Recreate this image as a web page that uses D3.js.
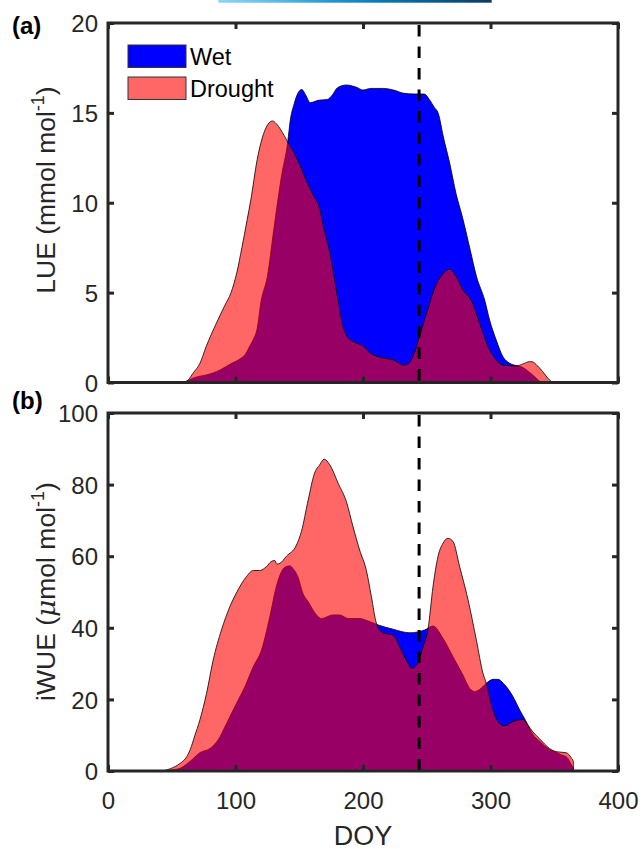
<!DOCTYPE html>
<html>
<head>
<meta charset="utf-8">
<script src="https://cdn.jsdelivr.net/npm/d3@7"></script>
<style>
  html, body { margin: 0; padding: 0; background: #fff; }
  svg { display: block; font-family: "Liberation Sans", Arial, Helvetica, sans-serif; }
</style>
</head>
<body>
<svg id="chart" width="643" height="849"></svg>
<script>
// ---- data: [DOY, value] ----
const lueWet = [
  [45,0],[50,0.05],[56,0.05],[59,0],[62,0.08],[66,0.22],[72,0.35],[77,0.42],[88,0.7],[96,1.03],
  [103,1.29],[108,1.6],[111,2.0],[114,2.4],[117,3.0],[120,4.5],[125,5.9],[130,8.5],
  [136,11.45],[141,13.4],[143,14.6],[146,15.5],[149,16.1],[152,16.3],[155,16.0],[158.7,15.57],
  [165,15.7],[172,15.75],[176,16.0],[180,16.4],[187,16.55],[195,16.42],[200,16.27],
  [206,16.36],[216,16.36],[224,16.27],[232,16.09],[240,16.05],[248,16.05],[252,15.75],
  [256,15.3],[259,14.98],[263,13.67],[268,12.2],[273,10.5],[278,9.2],[284,7.4],[289,5.9],
  [295.4,4.59],[299.3,3.48],[304.5,2.36],[309.7,1.44],[315,1.07],[321.5,0.92],[325,0.85],
  [330,0.6],[335,0.3],[338,0.1],[340,0]
];
const lueDrought = [
  [59,0],[63,0.15],[67,0.55],[72,1.05],[77,2.0],[85,3.3],[91.7,4.3],[96.5,5.0],[101,6.1],
  [105,7.5],[109,9.0],[112,10.15],[117,12.4],[122.6,13.95],[126.4,14.45],[129,14.55],[132,14.4],
  [135.6,14.05],[140.8,13.4],[146,12.75],[151,12.0],[156.4,11.08],[161.6,10.34],[165.5,9.8],
  [169,8.67],[174.6,7.0],[180,4.77],[183.7,3.29],[187.6,2.55],[192.8,2.27],[200.7,2.0],
  [206,1.62],[213.7,1.4],[224,1.25],[232,0.97],[236,1.07],[241,1.8],[245,2.74],[251.4,4.2],
  [256.6,5.33],[263,6.07],[268,6.3],[273,5.9],[278,5.2],[285,4.55],[291.5,3.29],[298,2.0],
  [304.5,1.25],[309.7,0.97],[320,0.92],[326,1.05],[330.6,1.16],[333,1.15],[335.8,1.0],
  [341,0.6],[346.3,0.14],[349,0]
];
const wueWet = [
  [44,0],[50,0.3],[56.4,0.75],[62,2.0],[66.9,3.5],[72,5.1],[80,6.3],[86.4,8.7],[93,13.3],
  [100.8,18.9],[107.3,23.5],[113.9,29.1],[120.4,33.8],[126.9,43.1],[132,51.5],[136.1,55.7],
  [138.7,56.9],[142.6,57.3],[145.2,56.5],[149,54.2],[153,49.5],[157,47.3],[163.5,43.6],
  [167.4,42.6],[176.5,43.6],[181.8,43.6],[188.3,42.6],[197.4,42.6],[202.6,42.1],[211.8,40.8],
  [223.6,39.6],[236.7,38.6],[248.4,39.4],[254.9,40.5],[262.7,37.1],[270.6,31.9],[278.4,26.8],
  [283.6,23.1],[287.5,22.2],[291.5,22.8],[296.7,24.5],[302,25.6],[305.8,25.6],[310,24.5],
  [317.6,20.8],[323,17.0],[328,13.8],[333.3,10.2],[338.5,8.3],[346.3,6.0],[351.5,5.2],
  [356,4.5],[360,3.8],[363,2.0],[365,0.5],[365,0]
];
const wueDrought = [
  [42,0],[50,0.8],[56.4,2.1],[61,3.6],[64.5,6.0],[68,9.8],[72,14.2],[77.3,21.7],[82.5,31],[89,39.4],
  [95.6,45.9],[102,50.6],[108.6,54.3],[113.9,56],[119,56],[124.3,57.1],[128,58.5],[130.8,58.8],
  [132.5,57.8],[134.8,58],[140,60],[147.8,63.1],[151.7,66.9],[157,75.7],[162,83.2],[166,85.5],
  [169.5,87.1],[174,85.5],[180.5,80.4],[187,75.2],[192.2,68.2],[197.4,61.7],[202.6,56.1],
  [206.6,48.7],[210.5,41.3],[215.7,38.6],[223.6,38.0],[228.8,34.7],[235.3,30.1],[237.9,28.7],
  [243.1,30.1],[247,34.7],[250.9,39.4],[254.9,51.5],[258.8,59.9],[262.7,63.6],[266.7,65.0],
  [270.6,64.1],[275.8,57.1],[282.4,47.8],[288.9,36.6],[294.1,27.3],[296.7,24.5],[301.9,17.0],
  [307,13.3],[311,12.6],[317.6,13.8],[325.4,14.4],[329.3,12.8],[333.3,10.9],[338.5,9.0],
  [346.3,6.3],[351.5,5.4],[359.4,5.1],[363.3,3.7],[365,2.6],[365,0]
];
const markerDoy = 244;

const xTicks = [0, 100, 200, 300, 400];
const lueTicks = [0, 5, 10, 15, 20];
const wueTicks = [0, 20, 40, 60, 80, 100];
const seriesNames = ["Wet", "Drought"];
const barStops = ["#8fd5f6", "#5dbbe8", "#2399d2", "#0679b5", "#0a5a8a", "#0c3a5f"];

// ---- layout ----
const svg = d3.select("#chart");
const left = 108, right = 618;
const panels = [
  { id: "a", top: 23, bottom: 382.5, max: 20, ticks: lueTicks, wet: lueWet, dry: lueDrought, xlabels: false, letterY: 25 },
  { id: "b", top: 413, bottom: 771, max: 100, ticks: wueTicks, wet: wueWet, dry: wueDrought, xlabels: true, letterY: 400 }
];
const axisColor = "#262626";
const x = d3.scaleLinear().domain([0, 400]).range([left, right]);

// gradient strip along the top edge
const defs = svg.append("defs");
const grad = defs.append("linearGradient").attr("id", "topbar").attr("x1", 0).attr("x2", 1).attr("y1", 0).attr("y2", 0);
barStops.forEach((c, i) => grad.append("stop").attr("offset", i / (barStops.length - 1)).attr("stop-color", c));
svg.append("rect").attr("x", 218.3).attr("y", 0).attr("width", 273.4).attr("height", 2.7).attr("fill", "url(#topbar)");

panels.forEach(p => {
  const y = d3.scaleLinear().domain([0, p.max]).range([p.bottom, p.top]);
  const g = svg.append("g");
  const area = d3.area().x(d => x(d[0])).y0(y(0)).y1(d => y(d[1])).curve(d3.curveMonotoneX);

  g.append("path").datum(p.wet).attr("d", area)
    .attr("fill", "#0000ff").attr("stroke", "#000").attr("stroke-width", 0.8);
  g.append("path").datum(p.dry).attr("d", area)
    .attr("fill", "#ff0000").attr("fill-opacity", 0.6).attr("stroke", "#000").attr("stroke-width", 0.8);

  // vertical dashed marker
  g.append("line").attr("x1", x(markerDoy)).attr("x2", x(markerDoy))
    .attr("y1", p.top + 2).attr("y2", p.bottom)
    .attr("stroke", "#000").attr("stroke-width", 3).attr("stroke-dasharray", "11.5,10");

  // inward ticks on all four sides
  const tl = 6;
  const axB = d3.axisBottom(x).tickValues(xTicks).tickSize(-tl).tickFormat(p.xlabels ? d3.format("d") : "");
  const axT = d3.axisTop(x).tickValues(xTicks).tickSize(-tl).tickFormat("");
  const axL = d3.axisLeft(y).tickValues(p.ticks).tickSize(-tl).tickFormat(d3.format("d"));
  const axR = d3.axisRight(y).tickValues(p.ticks).tickSize(-tl).tickFormat("");
  const styleAxis = sel => {
    sel.select(".domain").remove();
    sel.selectAll(".tick line").attr("stroke", axisColor).attr("stroke-width", 3);
    sel.selectAll(".tick text").attr("fill", axisColor).attr("font-size", 24)
      .attr("font-family", "Liberation Sans, Arial, sans-serif");
  };
  const gb = g.append("g").attr("transform", `translate(0,${p.bottom})`).call(axB).call(styleAxis);
  gb.selectAll(".tick text").attr("dy", null).attr("y", 38);
  g.append("g").attr("transform", `translate(0,${p.top})`).call(axT).call(styleAxis);
  const gl = g.append("g").attr("transform", `translate(${left},0)`).call(axL).call(styleAxis);
  gl.selectAll(".tick text").attr("x", -10).attr("dy", "0.36em");
  g.append("g").attr("transform", `translate(${right},0)`).call(axR).call(styleAxis);

  // frame
  g.append("rect").attr("x", left).attr("y", p.top).attr("width", right - left).attr("height", p.bottom - p.top)
    .attr("fill", "none").attr("stroke", axisColor).attr("stroke-width", 3);

  // panel letter
  svg.append("text").attr("x", 12).attr("y", p.letterY).attr("dy", "0.36em")
    .attr("font-size", 24).attr("font-weight", "bold").attr("fill", "#000").text(`(${p.id})`);
});

// y-axis titles
const lueTitle = svg.append("text")
  .attr("transform", "translate(55,190) rotate(-90)")
  .attr("text-anchor", "middle").attr("font-size", 26.5).attr("fill", axisColor);
lueTitle.append("tspan").text("LUE (mmol mol");
lueTitle.append("tspan").attr("font-size", 18).attr("dy", -11).text("-1");
lueTitle.append("tspan").attr("dy", 11).text(")");

const wueTitle = svg.append("text")
  .attr("transform", "translate(55,591.5) rotate(-90)")
  .attr("text-anchor", "middle").attr("font-size", 26.5).attr("fill", axisColor);
wueTitle.append("tspan").text("iWUE (");
wueTitle.append("tspan").attr("font-style", "italic").attr("font-family", "DejaVu Serif, serif").text("\u03bc");
wueTitle.append("tspan").text("mol mol");
wueTitle.append("tspan").attr("font-size", 18).attr("dy", -11).text("-1");
wueTitle.append("tspan").attr("dy", 11).text(")");

// x-axis title
svg.append("text").attr("x", (left + right) / 2).attr("y", 844.5)
  .attr("text-anchor", "middle").attr("font-size", 27).attr("fill", axisColor).text("DOY");

// legend
const legendFill = ["#0000ff", "#ff6666"];
const legendTop = [45, 77];
seriesNames.forEach((name, i) => {
  svg.append("rect").attr("x", 128).attr("y", legendTop[i]).attr("width", 58).attr("height", 22.5)
    .attr("fill", legendFill[i]).attr("stroke", "#333").attr("stroke-width", 1);
  svg.append("text").attr("x", 190).attr("y", legendTop[i] + 11.5).attr("dy", "0.36em")
    .attr("font-size", 23.5).attr("fill", "#000").text(name);
});
</script>
</body>
</html>
